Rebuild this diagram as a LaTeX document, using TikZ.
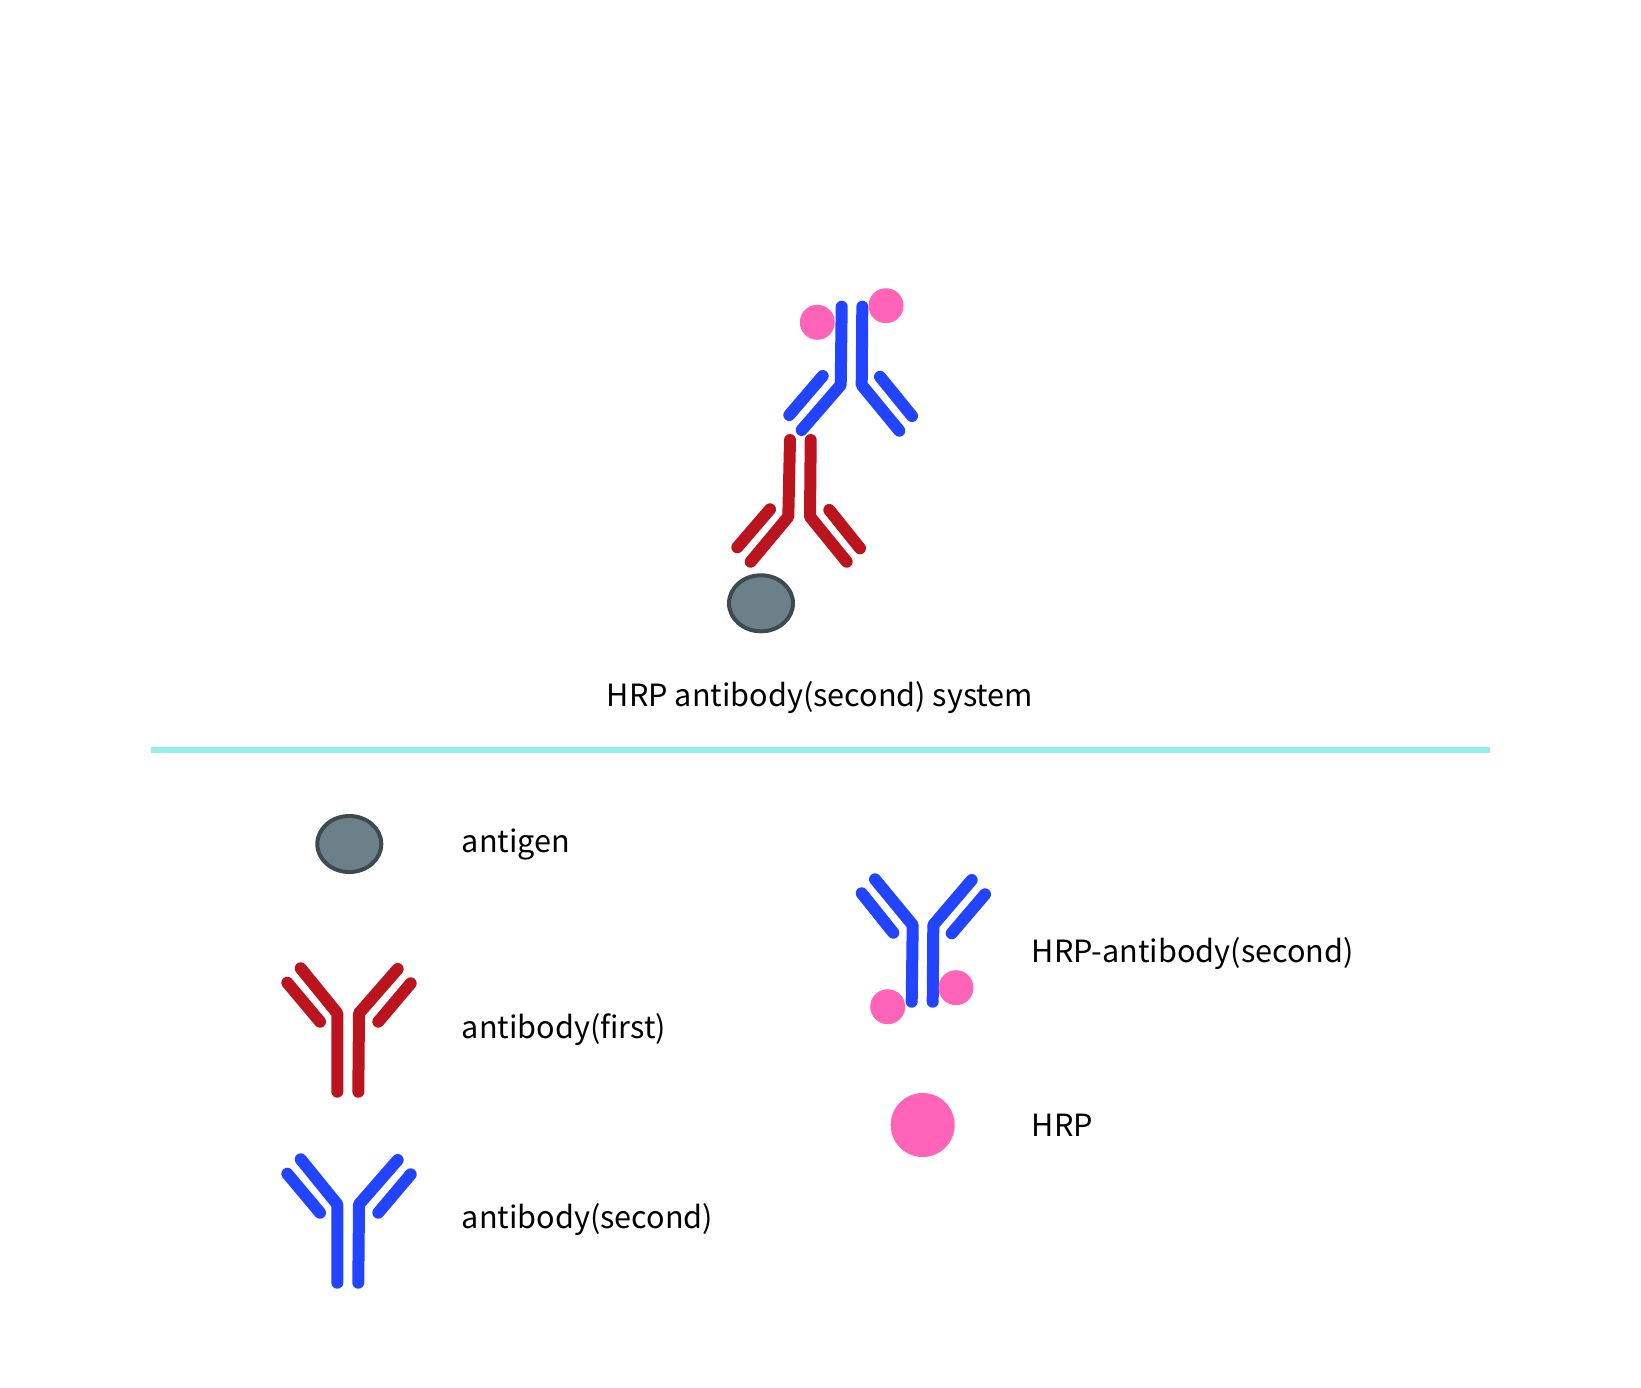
\documentclass[tikz,border=0pt]{standalone}
\usepackage{fontspec}
\setmainfont{Noto Sans CJK SC}
\usetikzlibrary{shapes.geometric}
\definecolor{abred}{RGB}{187,20,30}
\definecolor{abblue}{RGB}{34,68,255}
\definecolor{hrppink}{RGB}{255,100,184}
\definecolor{agfill}{RGB}{107,128,136}
\definecolor{agline}{RGB}{61,74,79}
\definecolor{sepcyan}{RGB}{148,238,234}
\tikzset{
  abline/.style={line width=12pt, line cap=round, line join=round},
  redab/.style={abline, draw=abred},
  blueab/.style={abline, draw=abblue},
  hrp/.style={circle, fill=hrppink, inner sep=0pt, minimum size=#1},
  antigen/.style={ellipse, fill=agfill, draw=agline, line width=4pt, minimum width=64pt, minimum height=56pt, inner sep=0pt},
  lbl/.style={anchor=base west, inner sep=0pt, font=\fontsize{30.6}{36}\selectfont},
}
\begin{document}
\begin{tikzpicture}[x=1pt,y=-1pt]
\useasboundingbox (0,0) rectangle (1641,1387);
% ---- top: assembled system ----
% second antibody (blue, inverted) with HRP
\draw[blueab] (841.7,306.7) -- (840.7,385) -- (801.7,430);
\draw[blueab] (862.3,306.7) -- (861.7,385) -- (899.3,430.7);
\draw[blueab] (822.7,376) -- (789.3,415);
\draw[blueab] (880,376.7) -- (912,416);
\node[hrp=35pt] (hrpA) at (817.3,322.3) {};
\node[hrp=35pt] (hrpB) at (886,305.7) {};
% first antibody (red, inverted)
\draw[redab] (790,440) -- (788.3,516.7) -- (750.7,561.7);
\draw[redab] (810.7,440) -- (810,516.7) -- (846.7,561.7);
\draw[redab] (770,509.3) -- (737.3,547.3);
\draw[redab] (829.3,510) -- (860,548.3);
% antigen
\node[antigen] (agTop) at (761,603.3) {};
\node[anchor=base, inner sep=0pt, font=\fontsize{30.6}{36}\selectfont] (title) at (820,706.7) {HRP antibody(second) system};
% separator
\coordinate (sepL) at (150.7,750.3);
\coordinate (sepR) at (1490,750.3);
\draw[draw=sepcyan, line width=6pt] (sepL) -- (sepR);
% ---- legend ----
\node[antigen] (agLeg) at (349.3,844) {};
\node[lbl] (tAg) at (461.7,852.7) {antigen};
% red antibody upright
\draw[redab] (337.3,1091.7) -- (337.3,1013.3) -- (300.7,968.3);
\draw[redab] (358.3,1091.7) -- (359,1013.3) -- (397.7,969);
\draw[redab] (320,1021.7) -- (287.3,982.7);
\draw[redab] (378.3,1021.7) -- (410.7,983.3);
\node[lbl] (tAb1) at (461.7,1038.3) {antibody(first)};
% blue antibody upright
\begin{scope}[yshift=-191pt]
\draw[blueab] (337.3,1091.7) -- (337.3,1013.3) -- (300.7,968.3);
\draw[blueab] (358.3,1091.7) -- (359,1013.3) -- (397.7,969);
\draw[blueab] (320,1021.7) -- (287.3,982.7);
\draw[blueab] (378.3,1021.7) -- (410.7,983.3);
\end{scope}
\node[lbl] (tAb2) at (461.7,1228.3) {antibody(second)};
% HRP-antibody(second)
\draw[blueab] (911.7,1001.7) -- (912.7,925) -- (875,879.3);
\draw[blueab] (932.7,1001.7) -- (933.3,925) -- (971.7,880);
\draw[blueab] (893.3,932.7) -- (861.7,893.3);
\draw[blueab] (951.7,933.3) -- (985,894.3);
\node[hrp=35pt] (hrpC) at (887.7,1006.7) {};
\node[hrp=35pt] (hrpD) at (956,987.7) {};
\node[lbl] (tHab) at (1031.7,962.3) {HRP-antibody(second)};
\node[hrp=64pt] (hrpLeg) at (922.7,1125) {};
\node[lbl] (tHrp) at (1031.7,1136.7) {HRP};
\end{tikzpicture}
\end{document}
